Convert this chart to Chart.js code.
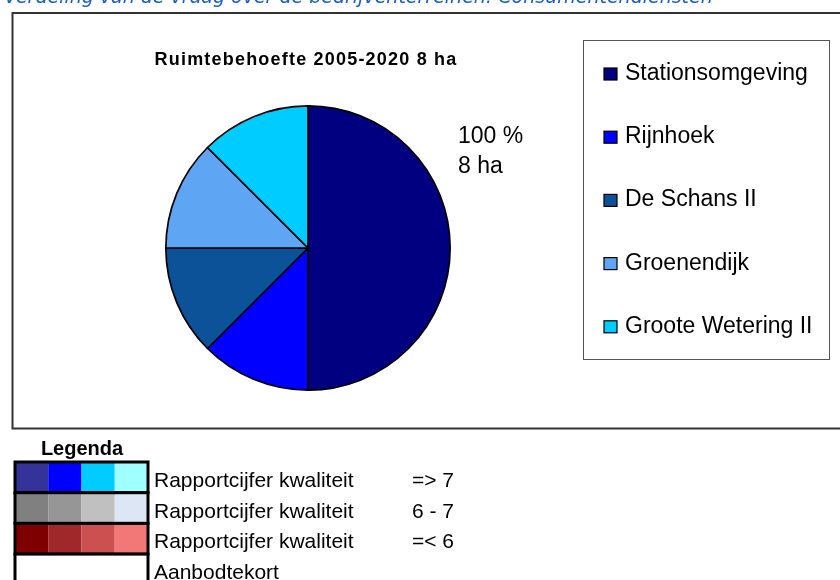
<!DOCTYPE html>
<html>
<head>
<meta charset="utf-8">
<script src="https://cdn.jsdelivr.net/npm/chart.js@4/dist/chart.umd.min.js"></script>
<style>
html,body{margin:0;padding:0;background:#fff;}
#wrap{width:840px;height:580px;position:relative;}
</style>
</head>
<body>
<div id="wrap"><canvas id="c" width="840" height="580"></canvas></div>
<script>
// ---- data ----
const categories = ["Stationsomgeving", "Rijnhoek", "De Schans II", "Groenendijk", "Groote Wetering II"];
const hectares = [4, 1, 1, 1, 1];
const sliceColors = ["#000080", "#0000FF", "#0B5299", "#5EA6F4", "#00CCFF"];
const pageTitle = "Verdeling van de vraag over de bedrijventerreinen: Consumentendiensten";
const chartTitle = "Ruimtebehoefte 2005-2020 8 ha";
const totalLabel = ["100 %", "8 ha"];
const legendTitle = "Legenda";
const keyRows = [
  {colors: ["#333399", "#0000FF", "#00CCFF", "#A0FFFF"], label: "Rapportcijfer kwaliteit", range: "=> 7"},
  {colors: ["#808080", "#969696", "#C0C0C0", "#DDE6F4"], label: "Rapportcijfer kwaliteit", range: "6 - 7"},
  {colors: ["#7F0000", "#A0282A", "#CC5050", "#F27777"], label: "Rapportcijfer kwaliteit", range: "=< 6"},
  {colors: ["#FFFFFF", "#FFFFFF", "#FFFFFF", "#FFFFFF"], label: "Aanbodtekort", range: ""}
];

const decor = {
  id: 'decor',
  beforeDraw(chart) {
    const ctx = chart.ctx;
    ctx.save();
    ctx.fillStyle = '#fff';
    ctx.fillRect(0, 0, 840, 580);
    // page title (cut off at top)
    ctx.fillStyle = '#1A5FC4';
    ctx.font = 'italic 19px "DejaVu Sans", sans-serif';
    ctx.textBaseline = 'alphabetic';
    ctx.textAlign = 'left';
    ctx.fillText(pageTitle, 4, 3);
    // outer frame
    ctx.strokeStyle = '#333';
    ctx.lineWidth = 2;
    ctx.beginPath();
    ctx.moveTo(850, 13); ctx.lineTo(12.5, 13); ctx.lineTo(12.5, 428.5); ctx.lineTo(850, 428.5);
    ctx.stroke();
    ctx.restore();
  },
  afterDraw(chart) {
    const ctx = chart.ctx;
    ctx.save();
    ctx.fillStyle = '#000';
    ctx.textBaseline = 'alphabetic';
    // chart title
    ctx.font = 'bold 18px "Liberation Sans", Arial, sans-serif';
    ctx.letterSpacing = '1.2px';
    ctx.textAlign = 'center';
    ctx.fillText(chartTitle, 306, 65);
    ctx.letterSpacing = '0px';
    // total label
    ctx.textAlign = 'left';
    ctx.font = '23px "Liberation Sans", Arial, sans-serif';
    ctx.fillText(totalLabel[0], 458, 143);
    ctx.fillText(totalLabel[1], 458, 173);
    // legend box
    ctx.strokeStyle = '#555';
    ctx.lineWidth = 1;
    ctx.strokeRect(583.5, 40.5, 246, 319);
    categories.forEach((name, i) => {
      const base = 80 + i * 63.2;
      ctx.fillStyle = sliceColors[i];
      ctx.fillRect(604, base - 12, 13, 12);
      ctx.strokeStyle = '#000';
      ctx.lineWidth = 1.2;
      ctx.strokeRect(604, base - 12, 13, 12);
      ctx.fillStyle = '#000';
      ctx.fillText(name, 625, base);
    });
    // bottom key
    ctx.font = 'bold 20px "Liberation Sans", Arial, sans-serif';
    ctx.textAlign = 'center';
    ctx.fillText(legendTitle, 82, 455);
    ctx.textAlign = 'left';
    const x0 = 15, cw = 33.25, top = 462, rh = 30.7;
    keyRows.forEach((row, r) => {
      const y = top + r * rh;
      row.colors.forEach((c, k) => {
        ctx.fillStyle = c;
        ctx.fillRect(x0 + k * cw, y, cw, rh);
      });
      ctx.strokeStyle = '#000';
      ctx.lineWidth = 3;
      ctx.strokeRect(x0, y, cw * 4, rh);
      ctx.fillStyle = '#000';
      ctx.font = '21px "Liberation Sans", Arial, sans-serif';
      ctx.fillText(row.label, 154, 487 + r * 30.5);
      if (row.range) ctx.fillText(row.range, 412, 487 + r * 30.5);
    });
    ctx.restore();
  }
};

new Chart(document.getElementById('c'), {
  type: 'pie',
  data: {
    labels: categories,
    datasets: [{
      data: hectares,
      backgroundColor: sliceColors,
      borderColor: '#000',
      borderWidth: 1.7,
      hoverOffset: 0,
      offset: 0
    }]
  },
  options: {
    responsive: false,
    animation: false,
    events: [],
    layout: {padding: {left: 165, right: 389, top: 105, bottom: 189}},
    plugins: {legend: {display: false}, tooltip: {enabled: false}, title: {display: false}}
  },
  plugins: [decor]
});
</script>
</body>
</html>
